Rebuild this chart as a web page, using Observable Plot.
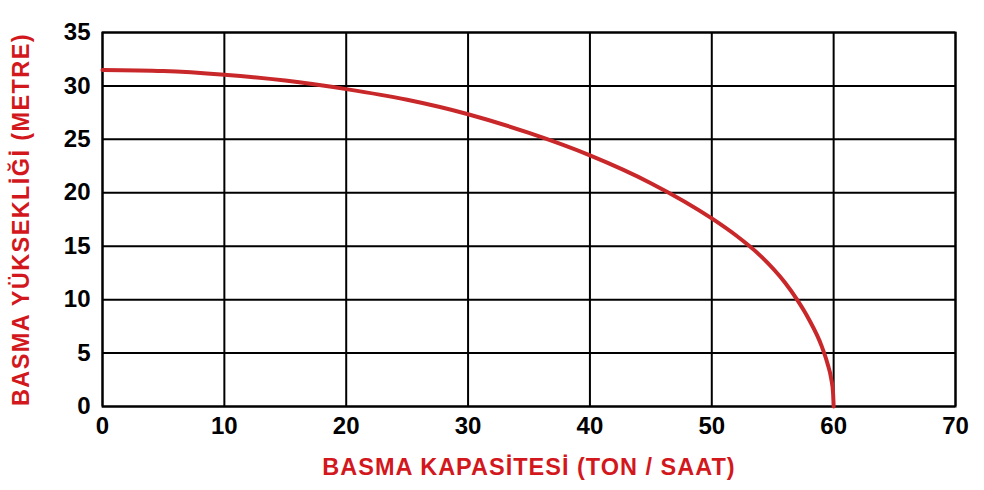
<!DOCTYPE html>
<html>
<head>
<meta charset="utf-8">
<script src="https://cdn.jsdelivr.net/npm/d3@7"></script>
<script src="https://cdn.jsdelivr.net/npm/@observablehq/plot@0.6"></script>
<style>
  html, body { margin: 0; padding: 0; background: #fff; }
  #chart { width: 984px; height: 490px; }
  g[aria-label="text"] text { letter-spacing: 1px; }
  g[aria-label="text"]:last-of-type text { letter-spacing: 1.4px; }
</style>
</head>
<body>
<div id="chart"></div>
<script>
const capacity = [0, 5, 10, 15, 20, 25, 30, 35, 40, 45, 50, 52, 54, 56, 57, 58, 59, 59.5, 59.8, 59.95, 60];
const head     = [31.5, 31.4, 31.05, 30.5, 29.7, 28.7, 27.35, 25.6, 23.5, 20.9, 17.6, 16.0, 14.1, 11.6, 10.0, 8.1, 5.7, 4.0, 2.6, 1.3, 0];
const xTicks = [0, 10, 20, 30, 40, 50, 60, 70];
const yTicks = [0, 5, 10, 15, 20, 25, 30, 35];
const xTitle = "BASMA KAPASİTESİ (TON / SAAT)";
const yTitle = "BASMA YÜKSEKLİĞİ (METRE)";

const data = capacity.map((c, i) => ({c, h: head[i]}));
const red = "#d2181d";

const chart = Plot.plot({
  width: 984,
  height: 490,
  marginLeft: 102,
  marginRight: 29,
  marginTop: 32,
  marginBottom: 84,
  style: {fontFamily: "'Liberation Sans', Arial, sans-serif", fontWeight: "bold", fontSize: "24px", color: "#000", background: "#fff", overflow: "visible"},
  x: {domain: [0, 70], ticks: xTicks, label: null},
  y: {domain: [0, 35], ticks: yTicks, label: null},
  marks: [
    Plot.gridX(xTicks, {stroke: "#000", strokeOpacity: 1, strokeWidth: 2}),
    Plot.gridY(yTicks, {stroke: "#000", strokeOpacity: 1, strokeWidth: 2}),
    Plot.frame({stroke: "#000", strokeWidth: 2}),
    Plot.axisX(xTicks, {tickSize: 0, tickPadding: 10, fontSize: 24, fontWeight: "bold", fill: "#000"}),
    Plot.axisY(yTicks, {tickSize: 0, tickPadding: 12, fontSize: 24, fontWeight: "bold", fill: "#000"}),
    Plot.line(data, {x: "c", y: "h", stroke: "#c9282b", strokeWidth: 4, curve: "monotone-x"}),
    Plot.text([xTitle], {frameAnchor: "bottom", dy: 68, text: d => d, fill: red, fontSize: 23.5, fontWeight: "bold", textAnchor: "middle"}),
    Plot.text([yTitle], {frameAnchor: "left", dx: -81, rotate: -90, text: d => d, fill: red, fontSize: 23.5, fontWeight: "bold", textAnchor: "middle"})
  ]
});
document.getElementById("chart").append(chart);
</script>
</body>
</html>
